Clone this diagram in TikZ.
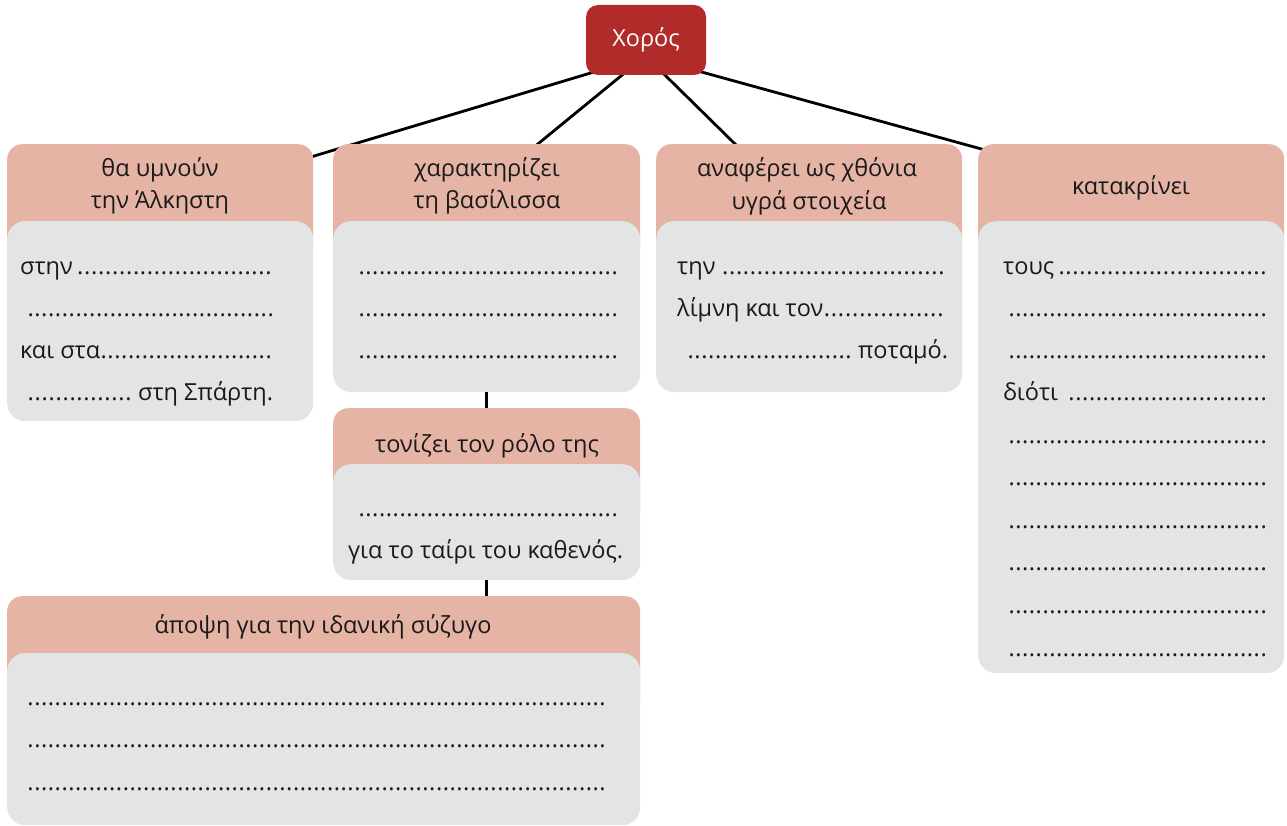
\documentclass[tikz,border=0pt]{standalone}
\usepackage{fontspec}
\setmainfont{Open Sans}
\usetikzlibrary{backgrounds}
\definecolor{chorred}{RGB}{177,43,43}
\definecolor{headpink}{RGB}{230,180,165}
\definecolor{bodygray}{RGB}{227,228,230}
\definecolor{txtblack}{RGB}{26,26,26}
\newcommand\fillin{\xleaders\hbox to 6.8pt{\hss.\hss}\hfill}
\newcommand\fline[2]{\hbox to #1pt{#2}}
\begin{document}
\begin{tikzpicture}[x=1pt, y=-1pt,
  every node/.style={inner sep=0pt, font=\fontsize{23.5}{30}\selectfont},
  chorbox/.style={fill=chorred, rounded corners=12pt, minimum width=120, minimum height=70, text=white},
  headbox/.style={fill=headpink, rounded corners=15pt, anchor=north west, minimum height=116},
  bodybox/.style={fill=bodygray, rounded corners=18pt, anchor=north west},
  ln/.style={anchor=base west, text=txtblack},
  hl/.style={anchor=base, text=txtblack},
  link/.style={line width=2.8pt}]
\useasboundingbox (0,0) rectangle (1287,826);

\node[chorbox] (chor) at (646,40) {Χορός};

% boxes
\node[headbox, minimum width=306] (h1) at (7,144) {};
\node[bodybox, minimum width=306, minimum height=200] (b1) at (7,221) {};
\node[headbox, minimum width=307] (h2) at (333,144) {};
\node[bodybox, minimum width=307, minimum height=171] (b2) at (333,221) {};
\node[headbox, minimum width=306] (h3) at (656,144) {};
\node[bodybox, minimum width=306, minimum height=171] (b3) at (656,221) {};
\node[headbox, minimum width=306] (h4) at (978,144) {};
\node[bodybox, minimum width=306, minimum height=452] (b4) at (978,221) {};
\node[headbox, minimum width=307] (h5) at (333,408) {};
\node[bodybox, minimum width=307, minimum height=116] (b5) at (333,464) {};
\node[headbox, minimum width=633] (h6) at (7,596) {};
\node[bodybox, minimum width=633, minimum height=172] (b6) at (7,653) {};

% connectors
\begin{scope}[on background layer]
\draw[link] ([xshift=-46,yshift=5]chor.south) -- (h1.center);
\draw[link] ([xshift=-18,yshift=5]chor.south) -- ([xshift=-20]h2.center);
\draw[link] ([xshift=14,yshift=5]chor.south) -- ([xshift=-15]h3.center);
\draw[link] ([xshift=49,yshift=5]chor.south) -- ([yshift=12]h4.center);
\end{scope}
\draw[link] (b2.south) -- (h5.north);
\draw[link] (b5.south) -- (b5.south |- h6.north);

% headings
\node[hl] (h1a) at (160,177) {θα υμνούν};
\node[hl] (h1b) at (160,209) {την Άλκηστη};
\node[hl] (h2a) at (487,177) {χαρακτηρίζει};
\node[hl] (h2b) at (487,209) {τη βασίλισσα};
\node[hl] (h3a) at (807,177) {αναφέρει ως χθόνια};
\node[hl] (h3b) at (809,210) {υγρά στοιχεία};
\node[hl] (h4a) at (1131,195) {κατακρίνει};
\node[hl] (h5a) at (487,452) {τονίζει τον ρόλο της};
\node[hl] (h6a) at (323,633) {άποψη για την ιδανική σύζυγο};

% fill-in lines
\node[ln] (l1a) at (20,275) {\fline{252}{στην\,\fillin}};
\node[ln] (l1b) at (27,316) {\fline{247}{\fillin}};
\node[ln] (l1c) at (20,358) {\fline{252}{και στα\fillin}};
\node[ln] (l1d) at (27,400) {\fline{246}{\fillin\ στη Σπάρτη.}};
\foreach \y [count=\i] in {274,316,358}
  \node[ln] (l2\i) at (358,\y) {\fline{260}{\fillin}};
\node[ln] (l3a) at (677,274) {\fline{268}{την\ \fillin}};
\node[ln] (l3b) at (677,316) {\fline{267}{λίμνη και τον\fillin}};
\node[ln] (l3c) at (687,358) {\fline{261}{\fillin\ ποταμό.}};
\node[ln] (l4a) at (1003,274) {\fline{264}{τους\,\fillin}};
\node[ln] (l4d) at (1003,400) {\fline{264}{διότι\ \,\fillin}};
\foreach \y [count=\i] in {316,358,443,485,528,570,613,656}
  \node[ln] (l4\i) at (1008,\y) {\fline{259}{\fillin}};
\node[ln] (l5a) at (358,516) {\fline{260}{\fillin}};
\node[ln] (l5b) at (348,558) {για το ταίρι του καθενός.};
\foreach \y [count=\i] in {705,747,790}
  \node[ln] (l6\i) at (27,\y) {\fline{579}{\fillin}};
\end{tikzpicture}
\end{document}
